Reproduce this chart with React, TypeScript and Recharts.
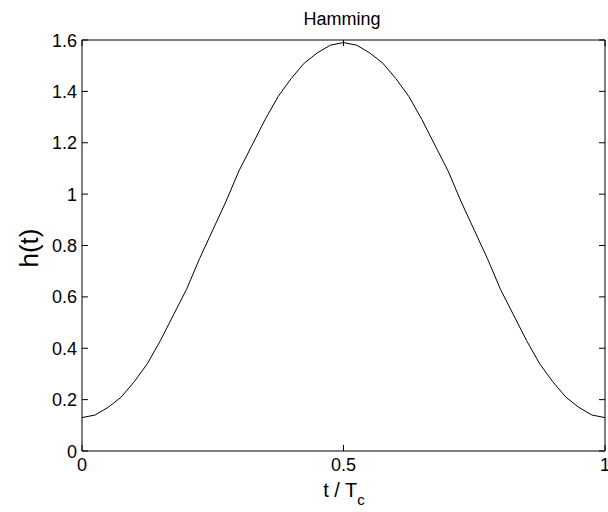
import React from 'react';
import { LineChart, Line, XAxis, YAxis, Label } from 'recharts';

const tValues = [
  0, 0.025, 0.05, 0.075, 0.1, 0.125, 0.15, 0.175, 0.2, 0.225, 0.25, 0.275, 0.3, 0.325, 0.35, 0.375, 0.4,
  0.425, 0.45, 0.475, 0.5, 0.525, 0.55, 0.575, 0.6, 0.625, 0.65, 0.675, 0.7, 0.725, 0.75, 0.775, 0.8,
  0.825, 0.85, 0.875, 0.9, 0.925, 0.95, 0.975, 1,
];
const hValues = [
  0.13, 0.14, 0.17, 0.21, 0.27, 0.34, 0.43, 0.53, 0.63, 0.75, 0.86, 0.97, 1.09, 1.19, 1.29, 1.38, 1.45,
  1.51, 1.55, 1.58, 1.59, 1.58, 1.55, 1.51, 1.45, 1.38, 1.29, 1.19, 1.09, 0.97, 0.86, 0.75, 0.63,
  0.53, 0.43, 0.34, 0.27, 0.21, 0.17, 0.14, 0.13,
];
const xTicks = [0, 0.5, 1];
const yTicks = [0, 0.2, 0.4, 0.6, 0.8, 1, 1.2, 1.4, 1.6];
const titleText = 'Hamming';
const yLabelText = 'h(t)';
const xLabelMain = 't / T';
const xLabelSub = 'c';

const data = tValues.map((t, i) => ({ t, h: hValues[i] }));

const FONT = '"Liberation Sans", Arial, sans-serif';
const TICK_LEN = 6;
const PLOT_LEFT = 82;
const PLOT_RIGHT = 605;
const PLOT_TOP = 40;
const PLOT_BOTTOM = 451;

const BottomTick = (props: any) => {
  const { x, payload } = props;
  return (
    <g>
      <line x1={x} x2={x} y1={PLOT_BOTTOM} y2={PLOT_BOTTOM - TICK_LEN} stroke="#000" strokeWidth={1} />
      <text x={x} y={PLOT_BOTTOM + 20} textAnchor="middle" fontSize={18} fontFamily={FONT} fill="#000">
        {String(payload.value)}
      </text>
    </g>
  );
};

const TopTick = (props: any) => {
  const { x } = props;
  return <line x1={x} x2={x} y1={PLOT_TOP} y2={PLOT_TOP + TICK_LEN} stroke="#000" strokeWidth={1} />;
};

const LeftTick = (props: any) => {
  const { y, payload } = props;
  return (
    <g>
      <line x1={PLOT_LEFT} x2={PLOT_LEFT + TICK_LEN} y1={y} y2={y} stroke="#000" strokeWidth={1} />
      <text x={PLOT_LEFT - 5} y={y + 6.5} textAnchor="end" fontSize={18} fontFamily={FONT} fill="#000">
        {String(payload.value)}
      </text>
    </g>
  );
};

const RightTick = (props: any) => {
  const { y } = props;
  return <line x1={PLOT_RIGHT} x2={PLOT_RIGHT - TICK_LEN} y1={y} y2={y} stroke="#000" strokeWidth={1} />;
};

const TitleContent = () => (
  <text x={342} y={25} textAnchor="middle" fontSize={18} fontFamily={FONT} fill="#000">
    {titleText}
  </text>
);

const XLabelContent = () => (
  <text x={344} y={497} textAnchor="middle" fontSize={20} fontFamily={FONT} fill="#000">
    {xLabelMain}
    <tspan dy={8} fontSize={15}>{xLabelSub}</tspan>
  </text>
);

const YLabelContent = () => (
  <text
    transform="translate(38,248) rotate(-90)"
    textAnchor="middle"
    fontSize={26}
    fontFamily={FONT}
    fill="#000"
  >
    {yLabelText}
  </text>
);

export default function App() {
  return (
    <div style={{ position: 'absolute', left: 0, top: 0, background: '#fff' }}>
      <LineChart
        width={608}
        height={512}
        data={data}
        margin={{ top: 39, right: 2, bottom: 0, left: 0 }}
      >
        <XAxis
          dataKey="t"
          type="number"
          domain={[0, 1]}
          ticks={xTicks}
          height={61}
          tickSize={6}
          tickLine={false}
          axisLine={{ stroke: '#000', strokeWidth: 1 }}
          tick={<BottomTick />}
          interval={0}
        >
          <Label content={<XLabelContent />} />
        </XAxis>
        <XAxis
          xAxisId="top"
          orientation="top"
          dataKey="t"
          type="number"
          domain={[0, 1]}
          ticks={xTicks}
          height={1}
          tickSize={6}
          tickLine={false}
          axisLine={{ stroke: '#000', strokeWidth: 1 }}
          tick={<TopTick />}
          interval={0}
        >
          <Label content={<TitleContent />} />
        </XAxis>
        <YAxis
          type="number"
          domain={[0, 1.6]}
          ticks={yTicks}
          width={82}
          tickSize={6}
          tickLine={false}
          axisLine={{ stroke: '#000', strokeWidth: 1 }}
          tick={<LeftTick />}
          interval={0}
        >
          <Label content={<YLabelContent />} />
        </YAxis>
        <YAxis
          yAxisId="right"
          orientation="right"
          type="number"
          domain={[0, 1.6]}
          ticks={yTicks}
          width={1}
          tickSize={6}
          tickLine={false}
          axisLine={{ stroke: '#000', strokeWidth: 1 }}
          tick={<RightTick />}
          interval={0}
        />
        <Line
          xAxisId="top"
          yAxisId="right"
          dataKey="h"
          stroke="none"
          dot={false}
          isAnimationActive={false}
        />
        <Line
          type="linear"
          dataKey="h"
          stroke="#000"
          strokeWidth={1}
          dot={false}
          isAnimationActive={false}
        />
      </LineChart>
    </div>
  );
}
